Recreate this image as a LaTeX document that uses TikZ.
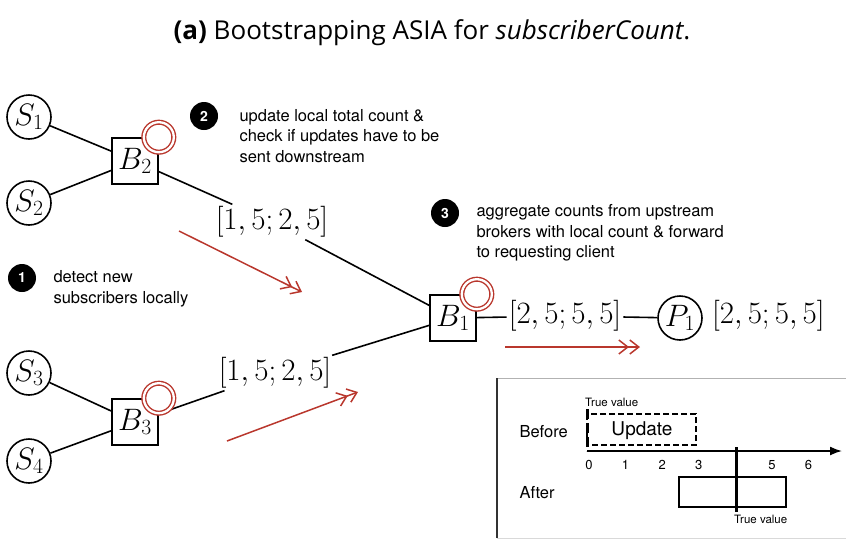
\RequirePackage{fix-cm}
\documentclass[tikz,border=0pt]{standalone}
\usepackage{fontspec}
\setmainfont{TeX Gyre Heros}
\newfontfamily\titlefont{Open Sans}
\usepackage{tikz}
\usetikzlibrary{arrows.meta, positioning, calc}
\definecolor{asiared}{RGB}{185,55,45}
\newcommand{\mathsize}{\fontsize{31}{36}\selectfont}
\tikzset{
  client/.style={circle, draw, line width=1.6pt, minimum size=44pt, inner sep=0pt, font=\mathsize},
  broker/.style={rectangle, draw, line width=1.6pt, minimum size=46pt, inner sep=0pt, fill=white, font=\mathsize},
  watch/.style={circle, draw=asiared, double=white, double distance=2.3pt, line width=1.4pt, fill=white, minimum size=30pt, inner sep=0pt},
  badge/.style={circle, fill=black, text=white, minimum size=28pt, inner sep=0pt, font=\bfseries\fontsize{14}{14}\selectfont},
  note/.style={anchor=west, align=left, font=\fontsize{16.5}{20.5}\selectfont},
  countlabel/.style={font=\mathsize, inner sep=2pt},
  flow/.style={asiared, line width=1.5pt, -{Straight Barb[length=9pt,width=14pt] Straight Barb[length=9pt,width=14pt]}},
  link/.style={line width=1.6pt},
  small/.style={font=\fontsize{11.5}{12}\selectfont, inner sep=0pt},
  ticklabel/.style={font=\fontsize{13}{14}\selectfont, inner sep=0pt}
}

\begin{document}
\begin{tikzpicture}[x=1pt, y=-1pt]
  \useasboundingbox (0,0) rectangle (846,539);

  % Caption
  \node[font=\titlefont\fontsize{26}{30}\selectfont] (title) at (432,33)
    {\textbf{(a)} Bootstrapping ASIA for \textit{subscriberCount}.};

  % Subscribers and brokers
  \node[client] (S1) at (29,117) {$S_1$};
  \node[client] (S2) at (29,203) {$S_2$};
  \node[client] (S3) at (29,373) {$S_3$};
  \node[client] (S4) at (29,461) {$S_4$};
  \node[broker] (B2) at (135,161) {$B_2$};
  \node[broker] (B3) at (135,422) {$B_3$};
  \node[broker] (B1) at (453,318) {$B_1$};
  \node[client] (P1) at (680,318) {$P_1$};

  % Count ranges on the links
  \node[countlabel] (r2) at (272,222) {$[1,5;2,5]$};
  \node[countlabel] (r3) at (275,373) {$[1,5;2,5]$};
  \node[countlabel] (r1) at (565,316) {$[2,5;5,5]$};
  \node[countlabel, anchor=west] (rp) at (710,316) {$[2,5;5,5]$};

  % Links
  \draw[link] (S1) -- (B2);
  \draw[link] (S2) -- (B2);
  \draw[link] (S3) -- (B3);
  \draw[link] (S4) -- (B3);
  \draw[link] (B2) -- (r2) -- (B1);
  \draw[link] (B3) -- (r3) -- (B1);
  \draw[link] (B1) -- (r1) -- (P1);

  % Watch markers on brokers
  \node[watch] (w2) at (B2.north east) {};
  \node[watch] (w3) at (B3.north east) {};
  \node[watch] (w1) at (B1.north east) {};

  % Flow arrows
  \coordinate (f1a) at (179,231);
  \coordinate (f1b) at (302,292);
  \coordinate (f2a) at (227,441);
  \coordinate (f2b) at (358,392);
  \coordinate (f3a) at (505,347);
  \coordinate (f3b) at (640,347);
  \draw[flow] (f1a) -- (f1b);
  \draw[flow] (f2a) -- (f2b);
  \draw[flow] (f3a) -- (f3b);

  % Steps
  \node[badge] (n1) at (22,278) {1};
  \node[note] (t1) at (50,289) {detect new\\subscribers locally};
  \node[badge] (n2) at (204,116) {2};
  \node[note] (t2) at (236,136) {update local total count \&\\check if updates have to be\\sent downstream};
  \node[badge] (n3) at (445,213) {3};
  \node[note] (t3) at (473,233) {aggregate counts from upstream\\brokers with local count \& forward\\to requesting client};

  % Inset: before / after
  \draw[gray!30, line width=1pt] (497,538) -- (846,538);
  \draw[gray!60, line width=1pt] (497,378) -- (846,378);
  \draw[gray!40!black, line width=1.4pt] (497,538) -- (497,378);

  \node[small, anchor=west] (tv1) at (585,402) {True value};
  \node[font=\fontsize{16.5}{18}\selectfont, anchor=west] (before) at (516,432) {Before};
  \node[font=\fontsize{16.5}{18}\selectfont, anchor=west] (after) at (516,493) {After};
  \draw[line width=1.3pt, dash pattern=on 6pt off 3pt] (587,414) rectangle (696,445);
  \node[font=\fontsize{19}{21}\selectfont] (upd) at (642,431) {Update};
  \draw[line width=3pt, dash pattern=on 10pt off 4pt] (587,409) -- (587,451);
  \draw[line width=1.6pt, -{Latex[length=12pt,width=9pt]}] (587,451) -- (842,451);
  \foreach \v in {0,1,2,3,5,6}
    \node[ticklabel] (tick\v) at (589+36.6*\v,465) {\v};
  \draw[line width=1.3pt] (679,477) rectangle (786,507);
  \draw[line width=3pt] (736,447) -- (736,512);
  \node[small, anchor=west] (tv2) at (734,519) {True value};
\end{tikzpicture}
\end{document}
